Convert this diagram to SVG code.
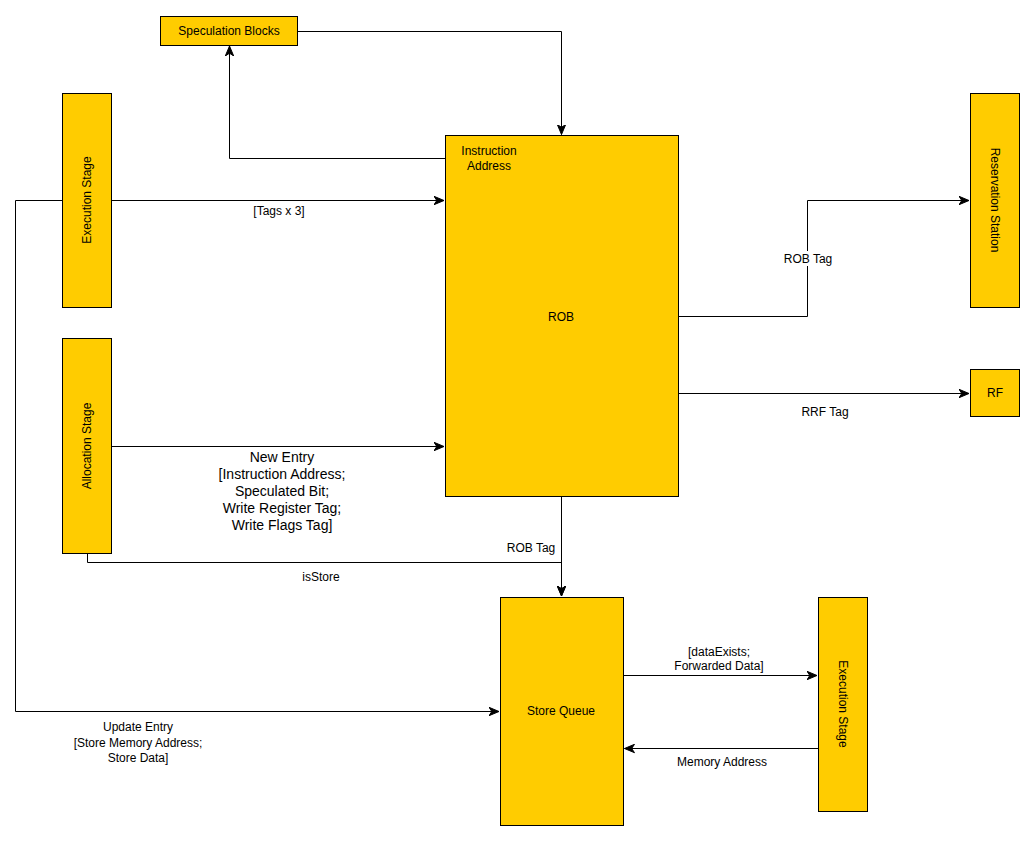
<svg xmlns="http://www.w3.org/2000/svg" width="1036" height="841" viewBox="0 0 1036 841">
<defs>
<marker id="arr" markerUnits="userSpaceOnUse" markerWidth="12" markerHeight="10" refX="10" refY="5" orient="auto" viewBox="0 0 12 10">
<path d="M0,0.8 L10,5 L0,9.2 L2.8,5 Z" fill="#000" stroke="#000" stroke-width="1"/>
</marker>
</defs>
<style>
.box{fill:#FFCC00;stroke:#000;stroke-width:1}
.t{font-family:"Liberation Sans",Arial,sans-serif;font-size:12px;fill:#000;text-anchor:middle;dominant-baseline:central}
.big{font-size:14px}
.e{fill:none;stroke:#000;stroke-width:1}
.ea{fill:none;stroke:#000;stroke-width:1;marker-end:url(#arr)}
</style>
<rect width="1036" height="841" fill="#fff"/>
<g id="connectors">
<path class="ea" d="M297.5,31.5 H561.5 V134.5"/>
<path class="ea" d="M445.5,158.5 H229.5 V46"/>
<path class="ea" d="M111.5,200.5 H444"/>
<path class="ea" d="M62,200.5 H15.5 V711.5 H499"/>
<path class="ea" d="M111.5,446.5 H444"/>
<path class="ea" d="M678.5,316.5 H807.5 V200.5 H969"/>
<path class="ea" d="M678.5,393.5 H969"/>
<path class="ea" d="M561.5,496.5 V596"/>
<path class="ea" d="M87.5,553.5 V562.5 H561.5 V596"/>
<path class="ea" d="M623.5,675.5 H817"/>
<path class="ea" d="M818,748.5 H624.5"/>
<rect x="782" y="251" width="52" height="15" fill="#fff"/>
<text class="t" x="279" y="211">[Tags x 3]</text>
<text class="t big" x="282" y="457">New Entry</text>
<text class="t big" x="282" y="474">[Instruction Address;</text>
<text class="t big" x="282" y="491">Speculated Bit;</text>
<text class="t big" x="282" y="508">Write Register Tag;</text>
<text class="t big" x="282" y="525">Write Flags Tag]</text>
<text class="t" x="808" y="259">ROB Tag</text>
<text class="t" x="825" y="412">RRF Tag</text>
<text class="t" x="531" y="548">ROB Tag</text>
<text class="t" x="321" y="577">isStore</text>
<text class="t" x="719" y="652">[dataExists;</text>
<text class="t" x="719" y="666">Forwarded Data]</text>
<text class="t" x="722" y="762">Memory Address</text>
<text class="t" x="138" y="727">Update Entry</text>
<text class="t" x="138" y="743">[Store Memory Address;</text>
<text class="t" x="138" y="758">Store Data]</text>
</g>
<g id="speculation-blocks">
<rect class="box" x="160.5" y="16.5" width="137" height="29"/>
<text class="t" x="229" y="31">Speculation Blocks</text>
</g>
<g id="execution-stage-left">
<rect class="box" x="62.5" y="93.5" width="49" height="214"/>
<text class="t" transform="translate(87,200) rotate(-90)">Execution Stage</text>
</g>
<g id="allocation-stage">
<rect class="box" x="62.5" y="338.5" width="49" height="215"/>
<text class="t" transform="translate(87,446) rotate(-90)">Allocation Stage</text>
</g>
<g id="rob">
<rect class="box" x="445.5" y="135.5" width="233" height="361"/>
<text class="t" x="489" y="151">Instruction</text>
<text class="t" x="489" y="166">Address</text>
<text class="t" x="561" y="317">ROB</text>
</g>
<g id="reservation-station">
<rect class="box" x="970.5" y="93.5" width="49" height="214"/>
<text class="t" transform="translate(995,200) rotate(90)">Reservation Station</text>
</g>
<g id="rf">
<rect class="box" x="970.5" y="369.5" width="49" height="47"/>
<text class="t" x="995" y="393">RF</text>
</g>
<g id="store-queue">
<rect class="box" x="500.5" y="597.5" width="123" height="228"/>
<text class="t" x="561" y="711">Store Queue</text>
</g>
<g id="execution-stage-right">
<rect class="box" x="818.5" y="597.5" width="49" height="214"/>
<text class="t" transform="translate(843,704) rotate(90)">Execution Stage</text>
</g>
</svg>
